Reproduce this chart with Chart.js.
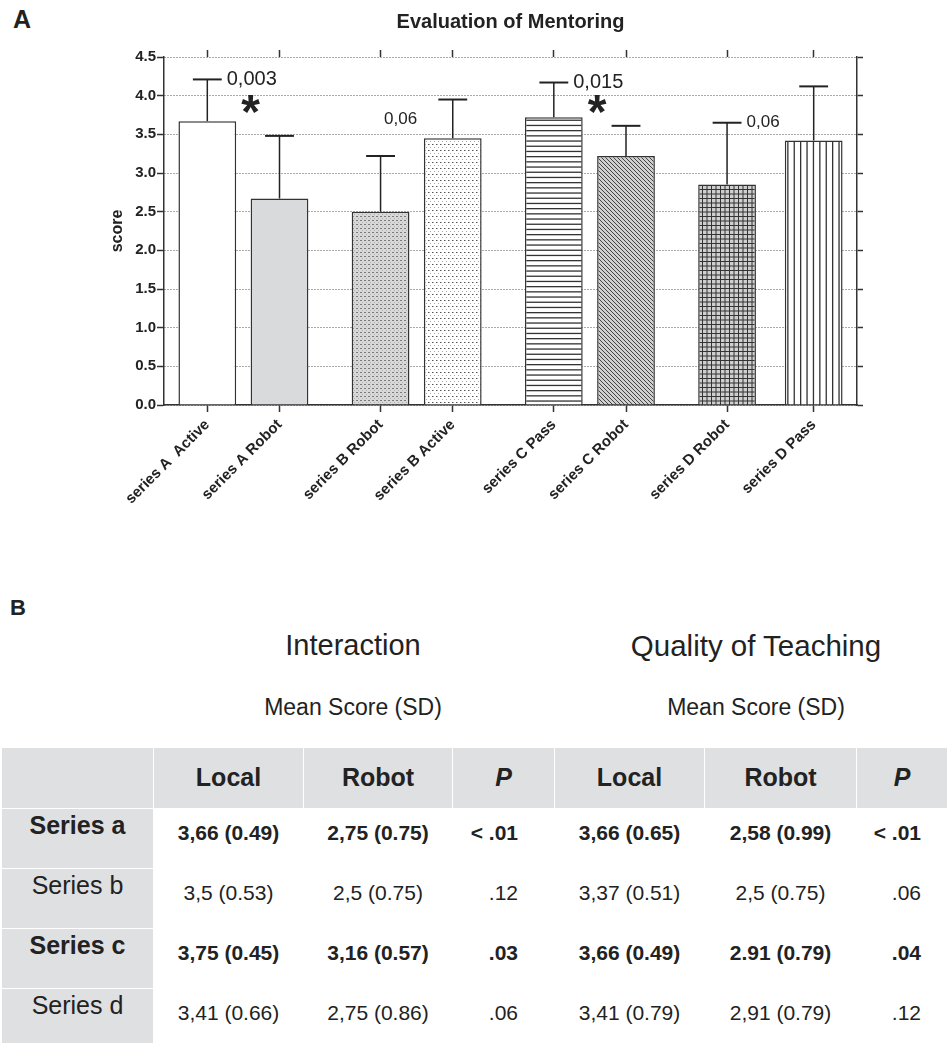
<!DOCTYPE html>
<html>
<head>
<meta charset="utf-8">
<title>Evaluation of Mentoring</title>
<script src="https://cdn.jsdelivr.net/npm/chart.js@4.4.1/dist/chart.umd.min.js"></script>
<style>
  html, body { margin: 0; padding: 0; background: #fff; }
  body { width: 947px; height: 1043px; position: relative; overflow: hidden;
         font-family: "Liberation Sans", Arial, Helvetica, sans-serif; color: #222; }
  .panel { position: absolute; font-weight: bold; line-height: 1; }
  #chartBox { position: absolute; left: 0; top: 0; width: 947px; height: 560px; }
  .head { position: absolute; line-height: 1; white-space: nowrap; transform: translateX(-50%); }
  #tbl { position: absolute; left: 2px; top: 748px; display: grid;
         grid-template-columns: 151px 149px 148px 101px 149px 151px 90px;
         grid-template-rows: 60px 59px 59px 59px 59px; gap: 1px; background: #fff; }
  #tbl div { line-height: 1; white-space: nowrap; box-sizing: border-box; }
  .th { background: #dfe0e2; font-size: 25px; font-weight: bold; text-align: center; padding-top: 17px; }
  .rl { background: #dfe0e2; font-size: 25px; text-align: center; padding-top: 4px; }
  .td { font-size: 21px; text-align: center; padding-top: 13px; }
  .pv { text-align: right; }
  .b { font-weight: bold; }
</style>
</head>
<body>
<div class="panel" style="left:13px; top:7px; font-size:25px;">A</div>
<div id="chartBox"><canvas id="chart"></canvas></div>

<div class="panel" style="left:10px; top:597px; font-size:22px;">B</div>
<div class="head" style="left:353px; top:631px; font-size:29px;">Interaction</div>
<div class="head" style="left:756px; top:631px; font-size:29.5px;">Quality of Teaching</div>
<div class="head" style="left:353px; top:696px; font-size:23px;">Mean Score (SD)</div>
<div class="head" style="left:756px; top:696px; font-size:23px;">Mean Score (SD)</div>
<div id="tbl"></div>

<script>
// ---- panel A data ----
const categories = ['series A  Active', 'series A Robot', 'series B Robot', 'series B Active',
                    'series C Pass', 'series C Robot', 'series D Robot', 'series D Pass'];
const meanScores = [3.67, 2.67, 2.5, 3.45, 3.72, 3.22, 2.85, 3.42];
const sdScores = [0.54, 0.81, 0.72, 0.5, 0.45, 0.39, 0.8, 0.7];
const yTicks = [0, 0.5, 1, 1.5, 2, 2.5, 3, 3.5, 4, 4.5];
const pBar = [0, 2, 4, 6];
const pText = ['0,003', '0,06', '0,015', '0,06'];

// ---- panel B data ----
const tableRows = ['Series a', 'Series b', 'Series c', 'Series d'];
const rowBold = [true, false, true, false];
const interLocal = ['3,66 (0.49)', '3,5 (0.53)', '3,75 (0.45)', '3,41 (0.66)'];
const interRobot = ['2,75 (0.75)', '2,5 (0.75)', '3,16 (0.57)', '2,75 (0.86)'];
const interP = ['< .01', '.12', '.03', '.06'];
const qualLocal = ['3,66 (0.65)', '3,37 (0.51)', '3,66 (0.49)', '3,41 (0.79)'];
const qualRobot = ['2,58 (0.99)', '2,5 (0.75)', '2.91 (0.79)', '2,91 (0.79)'];
const qualP = ['< .01', '.06', '.04', '.12'];

// layout: bars sit on a 48-slot axis so the pair gaps match the figure
const slotCount = 48;
const barSlots = [3, 8, 15, 20, 27, 32, 39, 45];
const barFill = ['plain', 'gray', 'dotsGray', 'dotsWhite', 'hlines', 'diag', 'grid', 'vlines'];
const pPlace = ['right', 'above', 'right', 'right'];
const pFont = [20, 17, 20, 17];
const starSlots = [6, 30];
const starValue = 3.89;

const makePattern = (kind) => {
    if (kind === 'plain') return '#ffffff';
    if (kind === 'gray') return '#d9dadc';
    const c = document.createElement('canvas');
    const g = c.getContext('2d');
    if (kind === 'dotsGray') {
        c.width = 4; c.height = 4;
        g.fillStyle = '#d8d8d8'; g.fillRect(0, 0, 4, 4);
        g.fillStyle = '#7a7a7a'; g.fillRect(0, 0, 2, 1);
        g.fillStyle = '#b0b0b0'; g.fillRect(2, 2, 1, 1);
    } else if (kind === 'dotsWhite') {
        c.width = 4; c.height = 6;
        g.fillStyle = '#fff'; g.fillRect(0, 0, 4, 6);
        g.fillStyle = '#555'; g.fillRect(0, 0, 1.5, 1);
        g.fillStyle = '#aaa'; g.fillRect(2, 3, 1, 1);
    } else if (kind === 'hlines') {
        c.width = 4; c.height = 26;
        g.fillStyle = '#fff'; g.fillRect(0, 0, 4, 26);
        g.fillStyle = '#333';
        for (let k = 0; k < 5; k++) g.fillRect(0, k * 5.2, 4, 1.3);
    } else if (kind === 'vlines') {
        c.width = 32; c.height = 4;
        g.fillStyle = '#fff'; g.fillRect(0, 0, 32, 4);
        g.fillStyle = '#333';
        for (let k = 0; k < 5; k++) g.fillRect(k * 6.4, 0, 1.3, 4);
    } else if (kind === 'diag') {
        c.width = 4; c.height = 4;
        g.fillStyle = '#d0d0d0'; g.fillRect(0, 0, 4, 4);
        g.strokeStyle = '#444'; g.lineWidth = 1;
        g.beginPath();
        g.moveTo(-1, -1); g.lineTo(5, 5);
        g.moveTo(-1, 3); g.lineTo(1, 5);
        g.moveTo(3, -1); g.lineTo(5, 1);
        g.stroke();
    } else if (kind === 'grid') {
        c.width = 9; c.height = 9;
        g.fillStyle = '#cfcfcf'; g.fillRect(0, 0, 9, 9);
        g.fillStyle = '#333';
        g.fillRect(0, 0, 1, 9); g.fillRect(4.5, 0, 1, 9);
        g.fillRect(0, 0, 9, 1); g.fillRect(0, 4.5, 9, 1);
    }
    return g.createPattern(c, 'repeat');
};

const overlay = {
    id: 'overlay',
    afterDatasetsDraw(chart) {
        const ctx = chart.ctx;
        const xs = chart.scales.x, ys = chart.scales.y;
        const bars = chart.getDatasetMeta(0).data;
        ctx.save();
        ctx.strokeStyle = '#222';
        bars.forEach((bar, i) => {
            const top = ys.getPixelForValue(meanScores[i] + sdScores[i]);
            const half = bar.width / 4;
            ctx.lineWidth = 1.5;
            ctx.beginPath(); ctx.moveTo(bar.x, bar.y); ctx.lineTo(bar.x, top); ctx.stroke();
            ctx.lineWidth = 2;
            ctx.beginPath(); ctx.moveTo(bar.x - half, top); ctx.lineTo(bar.x + half, top); ctx.stroke();
        });
        ctx.fillStyle = '#222';
        ctx.textBaseline = 'middle';
        ctx.textAlign = 'left';
        pBar.forEach((b, k) => {
            const bar = bars[b];
            const top = ys.getPixelForValue(meanScores[b] + sdScores[b]);
            ctx.font = pFont[k] + 'px "Liberation Sans", Arial, sans-serif';
            if (pPlace[k] === 'right') {
                ctx.fillText(pText[k], bar.x + bar.width / 4 + 5, top);
            } else {
                ctx.fillText(pText[k], bar.x + 3.5, top - 36.5);
            }
        });
        ctx.font = 'bold 48px "Liberation Sans", Arial, sans-serif';
        ctx.textAlign = 'center';
        ctx.textBaseline = 'alphabetic';
        const m = ctx.measureText('*');
        const shift = (m.actualBoundingBoxAscent - m.actualBoundingBoxDescent) / 2;
        starSlots.forEach(s => {
            ctx.fillText('*', xs.getPixelForValue(s), ys.getPixelForValue(starValue) + shift);
        });
        ctx.restore();
    }
};

Chart.defaults.font.family = '"Liberation Sans", Arial, sans-serif';
Chart.defaults.color = '#222';

const slotTicks = (scale) => { scale.ticks = barSlots.map(v => ({ value: v })); };
const scoreTicks = (scale) => { scale.ticks = yTicks.map(v => ({ value: v })); };

const ctx = document.getElementById('chart').getContext('2d');
const myChart = new Chart(ctx, {
    type: 'bar',
    data: {
        datasets: [{
            data: meanScores.map((v, i) => ({ x: barSlots[i], y: v })),
            backgroundColor: barFill.map(makePattern),
            borderColor: '#333',
            borderWidth: 1.5,
            barPercentage: 1,
            categoryPercentage: 0.8,
        }],
    },
    options: {
        responsive: true,
        maintainAspectRatio: false,
        animation: false,
        events: [],
        layout: { padding: { left: 104, right: 82, top: 4, bottom: 0 } },
        plugins: {
            legend: { display: false },
            tooltip: { enabled: false },
            title: {
                display: true,
                text: 'Evaluation of Mentoring',
                fullSize: false,
                font: { size: 20, weight: 'bold' },
                color: '#222',
                padding: { top: 6, bottom: 16 },
            },
        },
        scales: {
            x: {
                type: 'linear', position: 'bottom', min: 0, max: slotCount, offset: false,
                afterBuildTicks: slotTicks,
                ticks: {
                    autoSkip: false, minRotation: 45, maxRotation: 45, padding: 4,
                    callback: (v, i) => categories[i],
                    font: { size: 15, weight: 'bold' }, color: '#222',
                },
                grid: { drawOnChartArea: false, offset: false, tickLength: 7, tickColor: '#333', tickWidth: 1.5 },
                border: { color: '#333', width: 1.5 },
                afterFit: (s) => { s.height = 155; },
            },
            xTop: {
                type: 'linear', position: 'top', min: 0, max: slotCount, offset: false,
                afterBuildTicks: slotTicks,
                ticks: { display: false },
                grid: { drawOnChartArea: false, offset: false, tickLength: 7, tickColor: '#333', tickWidth: 1.5 },
                border: { display: false },
                afterFit: (s) => { s.height = 7; },
            },
            y: {
                position: 'left', min: 0, max: 4.5,
                afterBuildTicks: scoreTicks,
                ticks: { callback: (v) => v.toFixed(1), font: { size: 15, weight: 'bold' }, color: '#222', padding: 1 },
                grid: { color: '#555', lineWidth: 1, tickLength: 7, tickColor: '#333', tickWidth: 1.5 },
                border: { color: '#333', width: 1.5, dash: [1, 2] },
                title: { display: true, text: 'score', font: { size: 16, weight: 'bold' }, color: '#222' },
                afterFit: (s) => { s.width = 60; },
            },
            yRight: {
                position: 'right', min: 0, max: 4.5,
                afterBuildTicks: scoreTicks,
                ticks: { display: false },
                grid: { drawOnChartArea: false, tickLength: 6, tickColor: '#333', tickWidth: 1.5 },
                border: { color: '#333', width: 1.5 },
                afterFit: (s) => { s.width = 8; },
            },
        },
    },
    plugins: [overlay],
});

// ---- panel B table ----
const tbl = document.getElementById('tbl');
const addCell = (text, cls) => {
    const d = document.createElement('div');
    d.className = cls;
    d.textContent = text;
    tbl.appendChild(d);
    return d;
};
addCell('', 'th');
['Local', 'Robot', 'P', 'Local', 'Robot', 'P'].forEach(h => {
    const d = addCell(h, 'th');
    if (h === 'P') d.style.fontStyle = 'italic';
});
tableRows.forEach((name, r) => {
    const bold = rowBold[r] ? ' b' : '';
    addCell(name, 'rl' + bold);
    addCell(interLocal[r], 'td' + bold);
    addCell(interRobot[r], 'td' + bold);
    addCell(interP[r], 'td pv' + bold).style.paddingRight = '36px';
    addCell(qualLocal[r], 'td' + bold);
    addCell(qualRobot[r], 'td' + bold);
    addCell(qualP[r], 'td pv' + bold).style.paddingRight = '26px';
});
</script>
</body>
</html>
